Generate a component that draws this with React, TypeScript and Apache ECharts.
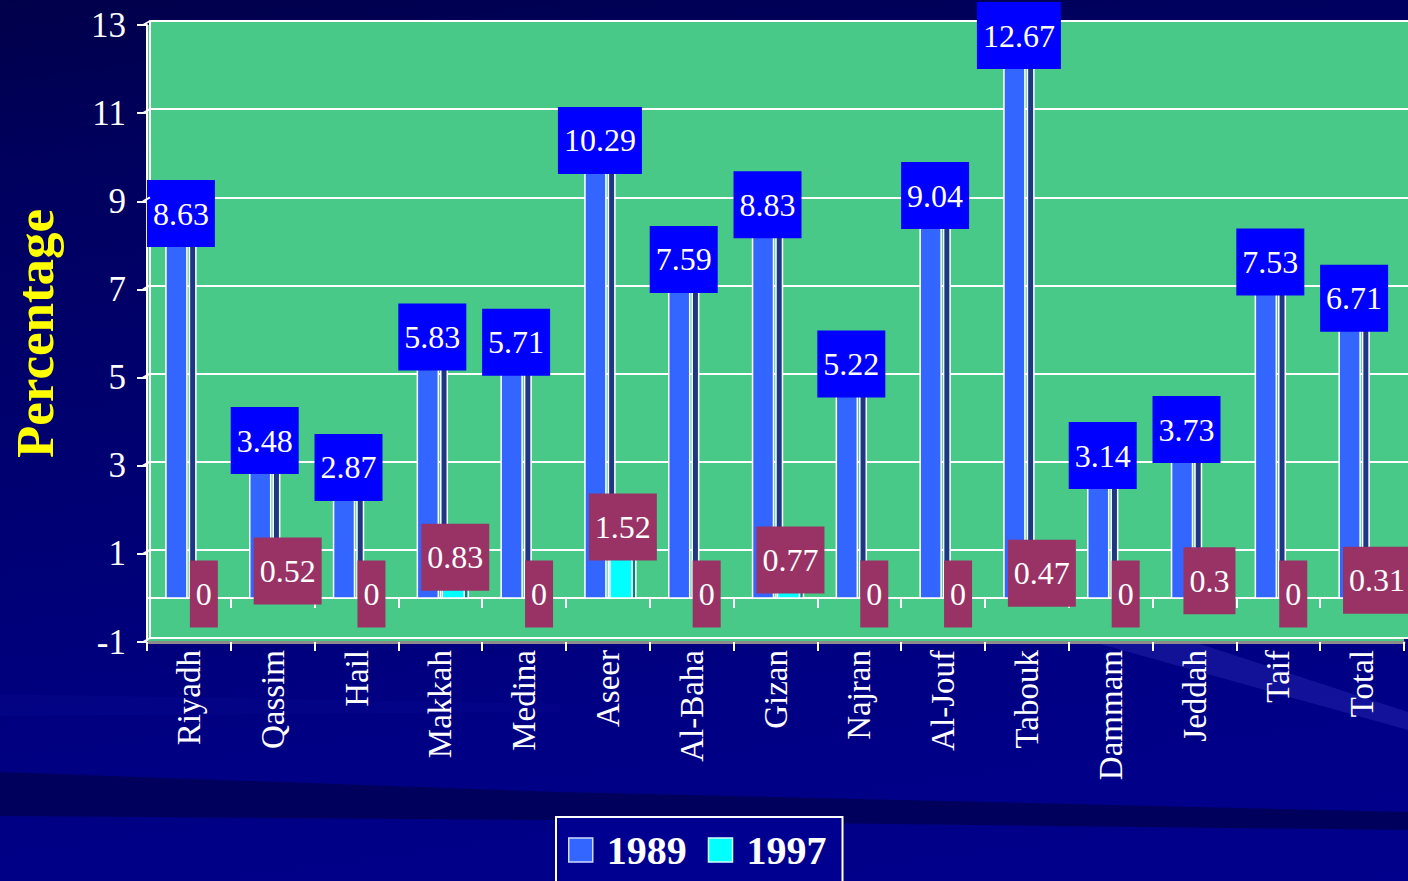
import React, { useEffect, useRef } from 'react';
import * as echarts from 'echarts';

// Regions and the percentage recorded for each survey year
const regions = ['Riyadh', 'Qassim', 'Hail', 'Makkah', 'Medina', 'Aseer', 'Al-Baha', 'Gizan', 'Najran', 'Al-Jouf', 'Tabouk', 'Dammam', 'Jeddah', 'Taif', 'Total'];
const rate1989 = [8.63, 3.48, 2.87, 5.83, 5.71, 10.29, 7.59, 8.83, 5.22, 9.04, 12.67, 3.14, 3.73, 7.53, 6.71];
const rate1997 = [0, 0.52, 0, 0.83, 0, 1.52, 0, 0.77, 0, 0, 0.47, 0, 0.3, 0, 0.31];
const yTickValues = [-1, 1, 3, 5, 7, 9, 11, 13];
const seriesNames = ['1989', '1997'];

const SERIF = '"Liberation Serif", "Times New Roman", serif';
const GREEN = '#49C987';
const FRONT_LEFT = 143;
const BACK_LEFT = 150;

type BarLook = {
  face: string; side: string; labelBg: string;
  f0: number; f1: number; s0: number; s1: number; lx: number;
};

// offsets are in 1/84 of a category band, relative to the band centre
const look1989: BarLook = { face: '#3366FF', side: '#1E3785', labelBg: '#0000FF', f0: -23, f1: -2, s0: 0.5, s1: 7, lx: -8 };
const look1997: BarLook = { face: '#00FFFF', side: '#008080', labelBg: '#993366', f0: 2, f1: 24, s0: 24, s1: 28, lx: 15 };

// pseudo-3D column: front face, darker side strip and a boxed value label
function barRenderer(look: BarLook) {
  return (_params: any, api: any) => {
    const idx = api.value(0) as number;
    const val = api.value(1) as number;
    const top = api.coord([idx, val]);
    const base = api.coord([idx, 0]);
    const u = (api.size([1, 0]) as number[])[0] / 84;
    const cx = top[0];
    const h = base[1] - top[1];
    return {
      type: 'group',
      children: [
        {
          type: 'rect',
          shape: { x: cx + look.s0 * u, y: top[1], width: (look.s1 - look.s0) * u, height: h },
          style: { fill: look.side, stroke: '#ffffff', lineWidth: 1.5 },
        },
        {
          type: 'rect',
          shape: { x: cx + look.f0 * u, y: top[1], width: (look.f1 - look.f0) * u, height: h },
          style: { fill: look.face, stroke: '#ffffff', lineWidth: 1.5 },
        },
        {
          type: 'text',
          z2: 100,
          style: {
            text: String(val),
            x: cx + look.lx * u,
            y: top[1] - 4,
            fill: '#ffffff',
            font: `32px ${SERIF}`,
            align: 'center',
            verticalAlign: 'middle',
            lineHeight: 32,
            backgroundColor: look.labelBg,
            padding: [18, 6, 17, 6],
          },
        },
      ],
    };
  };
}

// background streaks of the slide
const backdrop = [
  {
    type: 'polygon', silent: true, z: -10,
    shape: { points: [[0, 772], [560, 792], [1408, 812], [1408, 830], [560, 820], [0, 816]] },
    style: { fill: '#00005c' },
  },
  {
    type: 'polygon', silent: true, z: -10,
    shape: { points: [[1100, 644], [1200, 644], [1408, 712], [1408, 730]] },
    style: { fill: 'rgba(90,90,230,0.2)' },
  },
  {
    type: 'polygon', silent: true, z: -10,
    shape: { points: [[0, 694], [560, 704], [560, 712], [0, 716]] },
    style: { fill: 'rgba(40,40,200,0.08)' },
  },
];

const option: any = {
  animation: false,
  backgroundColor: 'transparent',
  textStyle: { fontFamily: SERIF },
  grid: [
    { left: FRONT_LEFT, right: 4, top: 25, bottom: 239, show: true, backgroundColor: GREEN, borderWidth: 0 },
    { left: BACK_LEFT, right: 0, top: 21, bottom: 243, show: true, backgroundColor: GREEN, borderWidth: 0 },
  ],
  xAxis: [
    {
      gridIndex: 0,
      type: 'category',
      data: regions,
      position: 'bottom',
      axisLine: { onZero: false, lineStyle: { color: '#8c8c8c', width: 3 } },
      axisTick: { show: true, length: 9, lineStyle: { color: '#ffffff', width: 2 } },
      axisLabel: { rotate: 90, margin: 8, color: '#ffffff', fontSize: 33, fontFamily: SERIF, interval: 0 },
      splitLine: { show: false },
    },
    {
      gridIndex: 0,
      type: 'category',
      data: regions,
      position: 'top',
      axisLine: { onZero: true, lineStyle: { color: '#ffffff', width: 2 } },
      axisTick: { show: true, inside: true, length: 10, lineStyle: { color: '#ffffff', width: 2 } },
      axisLabel: { show: false },
      splitLine: { show: false },
    },
    {
      gridIndex: 1,
      type: 'category',
      data: regions,
      show: false,
    },
  ],
  yAxis: [
    {
      gridIndex: 0,
      type: 'value',
      min: -1,
      max: 13,
      interval: 2,
      name: 'Percentage',
      nameLocation: 'middle',
      nameRotate: 90,
      nameGap: 86,
      nameTextStyle: { color: '#FFFF00', fontSize: 53, fontWeight: 'bold', fontFamily: SERIF },
      axisLine: { show: true, lineStyle: { color: '#ffffff', width: 2 } },
      axisTick: { show: true, length: 10, lineStyle: { color: '#ffffff', width: 2 } },
      axisLabel: { color: '#ffffff', fontSize: 35, fontFamily: SERIF, margin: 21 },
      splitLine: { show: false },
    },
    {
      gridIndex: 1,
      type: 'value',
      min: -1,
      max: 13,
      interval: 2,
      axisLine: { show: true, lineStyle: { color: '#ffffff', width: 2 } },
      axisTick: { show: false },
      axisLabel: { show: false },
      splitLine: { show: true, lineStyle: { color: '#ffffff', width: 2 } },
    },
  ],
  legend: {
    left: 556,
    top: 817,
    orient: 'horizontal',
    padding: [10, 16, 22, 12],
    itemWidth: 24,
    itemHeight: 24,
    itemGap: 21,
    borderColor: '#ffffff',
    borderWidth: 2,
    backgroundColor: '#000090',
    textStyle: { color: '#ffffff', fontSize: 40, fontWeight: 'bold', fontFamily: SERIF, lineHeight: 46, padding: [0, 0, 0, 9] },
    data: [
      { name: seriesNames[0], icon: 'rect', itemStyle: { color: look1989.face, borderColor: '#d0d8ff', borderWidth: 1.5 } },
      { name: seriesNames[1], icon: 'rect', itemStyle: { color: look1997.face, borderColor: '#d0ffff', borderWidth: 1.5 } },
    ],
  },
  series: [
    {
      name: seriesNames[0],
      type: 'custom',
      xAxisIndex: 0,
      yAxisIndex: 0,
      clip: false,
      itemStyle: { color: look1989.face },
      encode: { x: 0, y: 1 },
      data: rate1989.map((v, i) => [i, v]),
      renderItem: barRenderer(look1989),
    },
    {
      name: seriesNames[1],
      type: 'custom',
      xAxisIndex: 0,
      yAxisIndex: 0,
      clip: false,
      itemStyle: { color: look1997.face },
      encode: { x: 0, y: 1 },
      data: rate1997.map((v, i) => [i, v]),
      renderItem: barRenderer(look1997),
    },
  ],
  graphic: backdrop,
};

export default function App() {
  const ref = useRef<HTMLDivElement>(null);

  useEffect(() => {
    if (!ref.current) return;
    const chart = echarts.init(ref.current, null, { renderer: 'svg' });
    chart.setOption(option);

    // short diagonals joining the front axis ticks to the back-wall gridlines
    const connectors = yTickValues.map((v) => {
      const yf = chart.convertToPixel({ yAxisIndex: 0 }, v) as number;
      const yb = chart.convertToPixel({ yAxisIndex: 1 }, v) as number;
      return {
        type: 'line',
        silent: true,
        z: 10,
        shape: { x1: FRONT_LEFT, y1: yf, x2: BACK_LEFT, y2: yb },
        style: { stroke: '#ffffff', lineWidth: 2 },
      };
    });
    chart.setOption({ graphic: [...backdrop, ...connectors] });

    return () => chart.dispose();
  }, []);

  return (
    <div
      ref={ref}
      style={{
        position: 'fixed',
        left: 0,
        top: 0,
        width: 1408,
        height: 881,
        background:
          'linear-gradient(172deg, #00004a 0%, #00005e 16%, #00006c 36%, #000078 56%, #000084 74%, #00008c 100%)',
      }}
    />
  );
}
